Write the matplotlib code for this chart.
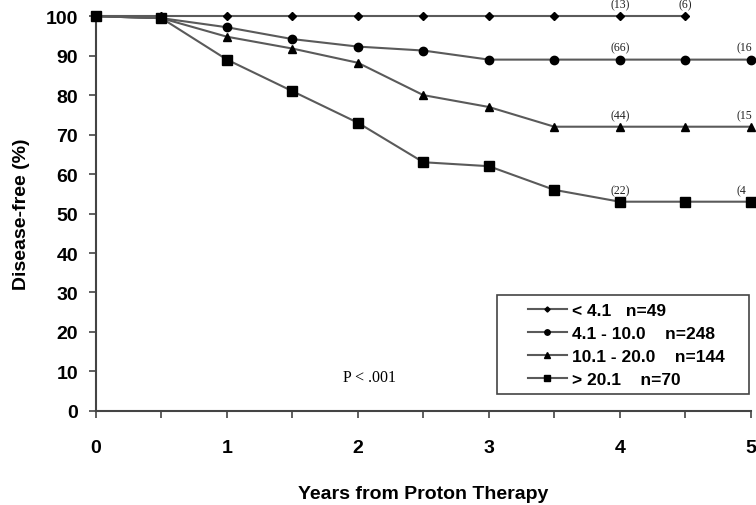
import matplotlib
matplotlib.use('Agg')
import matplotlib.pyplot as plt
from matplotlib.ticker import MultipleLocator
from matplotlib.patches import Rectangle

plt.rcParams['font.family'] = ['Liberation Sans', 'DejaVu Sans']

# Data
years = [0, 0.5, 1, 1.5, 2, 2.5, 3, 3.5, 4, 4.5, 5]
lt41 = [100, 100, 100, 100, 100, 100, 100, 100, 100, 100]          # to 4.5
g41_100 = [100, 99.5, 97.2, 94.2, 92.3, 91.3, 89.0, 89.0, 89.0, 89.0, 89.0]
g101_200 = [100, 99.5, 94.8, 91.8, 88.2, 80.0, 77.0, 72.0, 72.0, 72.0, 72.0]
gt201 = [100, 99.5, 89.0, 81.0, 73.0, 63.0, 62.0, 56.0, 53.0, 53.0, 53.0]

labels = ['< 4.1   n=49', '4.1 - 10.0    n=248', '10.1 - 20.0    n=144', '> 20.1    n=70']
markers = ['D', 'o', '^', 's']
msizes = [4, 6, 6, 6.5]

# at-risk numbers (x, y, text)
risk_x = [4, 4.5, 4, 4.89, 4, 4.89, 4, 4.89]
risk_y = [100, 100, 89, 89, 72, 72, 53, 53]
risk_txt = ['(13)', '(6)', '(66)', '(16', '(44)', '(15', '(22)', '(4']

fig = plt.figure(figsize=(7.56, 5.06), dpi=100)
ax = fig.add_axes([0.127, 0.186, 0.866, 0.780])

series = [(years[:10], lt41), (years, g41_100), (years, g101_200), (years, gt201)]
handles = []
for (xs, ys), lab, m, ms in zip(series, labels, markers, msizes):
    h, = ax.plot(xs, ys, color='#5a5a5a', lw=1.5, marker=m, ms=ms,
                 mfc='black', mec='black', label=lab, clip_on=False, zorder=3)
    handles.append(h)

for x, y, t in zip(risk_x, risk_y, risk_txt):
    ha = 'left' if x > 4.8 else 'center'
    ax.text(x, y + 3.0, t, ha=ha, va='center', fontsize=8.5,
            family='Liberation Serif', color='#222222', clip_on=False)

ax.text(2.09, 8.6, 'P < .001', ha='center', va='center', fontsize=11.5,
        family='Liberation Serif')

ax.set_xlim(0, 5)
ax.set_ylim(0, 100)
ax.xaxis.set_major_locator(MultipleLocator(1))
ax.xaxis.set_minor_locator(MultipleLocator(0.5))
ax.yaxis.set_major_locator(MultipleLocator(10))
ax.tick_params(axis='both', which='both', direction='out', color='#444444', width=1.2)
ax.tick_params(axis='x', which='both', length=5, pad=15, labelsize=14)
ax.tick_params(axis='y', length=5, pad=8, labelsize=14)
for lab in ax.get_xticklabels() + ax.get_yticklabels():
    lab.set_fontweight('bold')

for s in ['top', 'right']:
    ax.spines[s].set_visible(False)
for s in ['left', 'bottom']:
    ax.spines[s].set_color('#444444')
    ax.spines[s].set_linewidth(1.5)

ax.set_xlabel('Years from Proton Therapy', fontsize=14, fontweight='bold', labelpad=21)
ax.set_ylabel('Disease-free (%)', fontsize=14, fontweight='bold', labelpad=11)

# legend frame drawn separately to match the wide box
ax.add_patch(Rectangle((0.612, 0.043), 0.386, 0.251, transform=ax.transAxes,
                       fill=True, facecolor='white', edgecolor='#444444',
                       lw=1.2, zorder=4, clip_on=False))
leg = ax.legend(handles=handles, loc='upper left', bbox_to_anchor=(0.655, 0.282),
                fontsize=12.5, frameon=False, markerscale=0.65,
                handlelength=2.2, handletextpad=0.3, borderpad=0.2,
                labelspacing=0.45, borderaxespad=0)
leg.set_zorder(5)
for t in leg.get_texts():
    t.set_fontweight('bold')

fig.savefig('out.png', dpi=100, facecolor='white')
